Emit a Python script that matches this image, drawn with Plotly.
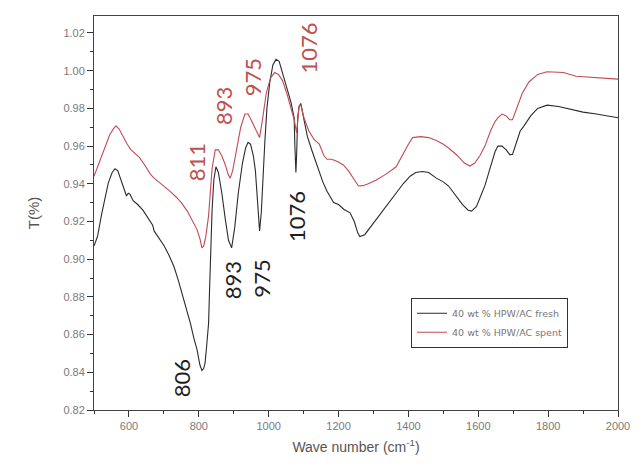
import plotly.graph_objects as go

# ---- data ----
fresh_x = [500, 510, 522, 541, 552, 560, 568, 578, 588, 593, 598, 603, 612, 625, 640, 654, 664, 668,
           672, 686, 701, 715, 729, 741, 752, 765, 776, 786, 795, 803, 809, 814, 818, 823, 828, 831,
           834, 838, 843, 849, 856, 866, 876, 885, 894, 903, 913, 925, 934, 941, 948, 956, 962, 968,
           974, 979, 984, 989, 995, 1003, 1012, 1021, 1030, 1040, 1050, 1058, 1064, 1070, 1073, 1075,
           1078, 1080, 1083, 1087, 1092, 1100, 1111, 1125, 1139, 1155, 1167, 1186, 1200, 1215, 1233,
           1245, 1255, 1261, 1275, 1295, 1327, 1355, 1385, 1405, 1421, 1440, 1458, 1480, 1500, 1515,
           1535, 1555, 1571, 1581, 1595, 1610, 1619, 1635, 1648, 1656, 1668, 1680, 1690, 1698, 1708,
           1720, 1731, 1750, 1770, 1797, 1830, 1863, 1900, 1938, 1970, 2000]
fresh_y = [0.907, 0.912, 0.924, 0.9405, 0.946, 0.948, 0.947, 0.942, 0.936, 0.9335, 0.935, 0.9345,
           0.931, 0.929, 0.926, 0.922, 0.919, 0.918, 0.915, 0.911, 0.907, 0.902, 0.896, 0.889, 0.882,
           0.874, 0.866, 0.858, 0.852, 0.844, 0.841, 0.842, 0.845, 0.855, 0.866, 0.885, 0.905, 0.926,
           0.942, 0.949, 0.946, 0.935, 0.921, 0.910, 0.906, 0.917, 0.935, 0.951, 0.959, 0.962, 0.961,
           0.955, 0.947, 0.930, 0.915, 0.925, 0.945, 0.962, 0.980, 0.9935, 1.003, 1.006, 1.005, 0.999,
           0.992, 0.987, 0.983, 0.978, 0.975, 0.960, 0.946, 0.955, 0.975, 0.981, 0.9826, 0.975, 0.965,
           0.957, 0.949, 0.941, 0.936, 0.930, 0.929, 0.9265, 0.9246, 0.920, 0.914, 0.912, 0.913, 0.918,
           0.926, 0.933, 0.940, 0.944, 0.946, 0.9465, 0.946, 0.943, 0.941, 0.9388, 0.934, 0.929, 0.926,
           0.9255, 0.928, 0.935, 0.939, 0.949, 0.957, 0.960, 0.960, 0.958, 0.9555, 0.9556, 0.961, 0.968,
           0.9707, 0.976, 0.980, 0.9817, 0.981, 0.9796, 0.978, 0.977, 0.976, 0.975]

spent_x = [500, 504, 518, 532, 545, 555, 563, 572, 583, 595, 606, 618, 630, 645, 662, 672, 685, 701,
           718, 735, 750, 767, 780, 795, 803, 809, 814, 820, 828, 833, 838, 847, 856, 866, 876, 884,
           890, 897, 908, 920, 932, 941, 951, 962, 974, 983, 993, 1005, 1017, 1028, 1040, 1054, 1065,
           1073, 1080, 1087, 1092, 1101, 1115, 1130, 1145, 1158, 1167, 1180, 1195, 1214, 1228, 1242,
           1257, 1270, 1285, 1308, 1335, 1365, 1385, 1400, 1412, 1435, 1458, 1480, 1500, 1515, 1540,
           1560, 1576, 1590, 1605, 1619, 1635, 1648, 1656, 1668, 1680, 1690, 1698, 1710, 1726, 1745,
           1770, 1797, 1844, 1880, 1919, 1960, 2000]
spent_y = [0.944, 0.946, 0.953, 0.960, 0.966, 0.969, 0.9707, 0.969, 0.965, 0.961, 0.958, 0.956,
           0.954, 0.950, 0.945, 0.943, 0.941, 0.939, 0.936, 0.933, 0.930, 0.9255, 0.921, 0.9157, 0.911,
           0.906, 0.907, 0.912, 0.923, 0.935, 0.948, 0.958, 0.958, 0.9547, 0.950, 0.945, 0.943, 0.947,
           0.958, 0.970, 0.977, 0.977, 0.9734, 0.969, 0.9645, 0.975, 0.988, 0.996, 0.999, 0.998,
           0.9946, 0.9867, 0.980, 0.974, 0.967, 0.981, 0.982, 0.975, 0.968, 0.9636, 0.961, 0.955,
           0.953, 0.953, 0.952, 0.950, 0.947, 0.943, 0.9388, 0.939, 0.940, 0.942, 0.945, 0.949, 0.956,
           0.961, 0.9645, 0.965, 0.9645, 0.963, 0.961, 0.959, 0.955, 0.951, 0.9494, 0.951, 0.955,
           0.960, 0.968, 0.973, 0.975, 0.977, 0.976, 0.974, 0.974, 0.980, 0.988, 0.994, 0.998, 0.9994,
           0.999, 0.997, 0.9964, 0.996, 0.9955]

series_names = ["40 wt % HPW/AC fresh", "40 wt % HPW/AC spent"]

# peak labels: (text, x, y)
red_labels = [("811", 792, 0.9514), ("893", 871, 0.981), ("975", 953, 0.9966), ("1076", 1114, 1.012)]
black_labels = [("806", 753, 0.837), ("893", 899, 0.889), ("975", 981, 0.8897), ("1076", 1080, 0.9227)]

BLACK = "#2b2b2b"
RED = "#c24a55"
RED_TXT = "#c0504d"

fig = go.Figure()
fig.add_trace(go.Scatter(x=fresh_x, y=fresh_y, mode="lines", name=series_names[0],
                         line=dict(color=BLACK, width=1.1)))
fig.add_trace(go.Scatter(x=spent_x, y=spent_y, mode="lines", name=series_names[1],
                         line=dict(color=RED, width=1.1)))

for t, x, y in red_labels:
    fig.add_annotation(x=x, y=y, text=t, textangle=-90, showarrow=False,
                       font=dict(family="Lato", size=22, color=RED_TXT))
for t, x, y in black_labels:
    fig.add_annotation(x=x, y=y, text=t, textangle=-90, showarrow=False,
                       font=dict(family="Lato", size=22, color="#1e1e1e"))

fig.update_layout(
    template="simple_white",
    width=642, height=472,
    margin=dict(l=94, r=17, t=16, b=62),
    paper_bgcolor="white", plot_bgcolor="white",
    showlegend=True,
    legend=dict(x=0.605, y=0.285, xanchor="left", yanchor="top",
                bordercolor="#333", borderwidth=1, bgcolor="white",
                font=dict(family="DejaVu Sans", size=9.5, color="#777"),
                tracegroupgap=0, itemwidth=30),
)

fig.update_xaxes(range=[500, 2000], dtick=200, showline=True, linecolor="#444", mirror=True,
                 ticks="outside", ticklen=6, tickwidth=1.3, tickcolor="#333",
                 minor=dict(ticks="outside", ticklen=3, tickcolor="#333", dtick=100),
                 showgrid=False, zeroline=False,
                 tickfont=dict(family="Liberation Sans", size=11, color="#7a7a7a"),
                 title=dict(text="Wave number (cm<sup>-1</sup>)", standoff=10,
                            font=dict(family="Liberation Sans", size=14, color="#555")))
fig.update_yaxes(range=[0.82, 1.029], dtick=0.02, tickformat=".2f",
                 showline=True, linecolor="#444", mirror=True,
                 ticks="outside", ticklen=6, tickwidth=1.3, tickcolor="#333",
                 minor=dict(ticks="outside", ticklen=3, tickcolor="#333", dtick=0.01),
                 showgrid=False, zeroline=False,
                 tickfont=dict(family="Liberation Sans", size=11, color="#7a7a7a"),
                 title=dict(text="T(%)", standoff=20,
                            font=dict(family="Liberation Sans", size=15, color="#555")))

fig.write_html("out.html")
